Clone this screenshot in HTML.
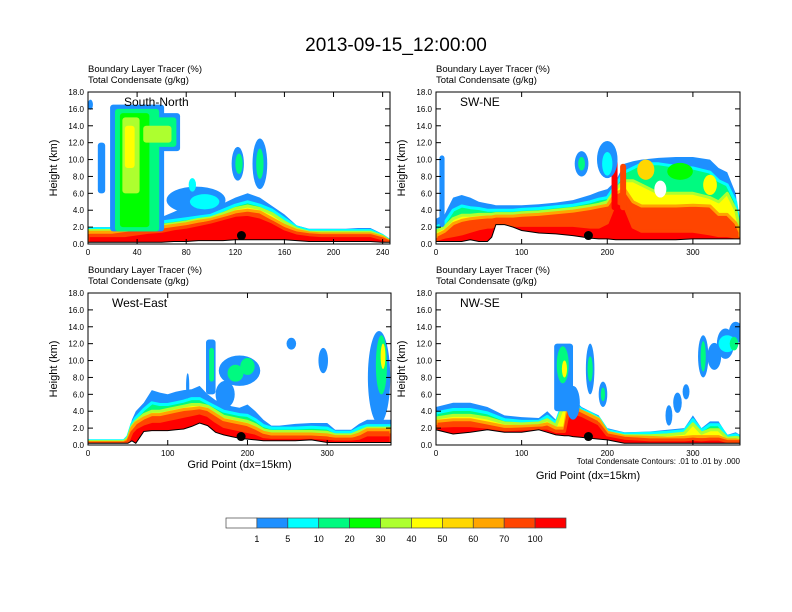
<!DOCTYPE html>
<html><head><meta charset="utf-8"><style>
html,body{margin:0;padding:0;background:#fff;}
svg{display:block;font-family:"Liberation Sans",sans-serif;}
</style></head><body>
<svg id="fig" width="792" height="612" viewBox="0 0 792 612">
<text x="396" y="51" font-size="19" text-anchor="middle">2013-09-15_12:00:00</text>
<g id="panels"></g>
<g id="colorbar"></g>
<text x="740" y="464" font-size="8" text-anchor="end">Total Condensate Contours: .01 to .01 by .000</text>
</svg>
<script>
// colour scale
const levelLabels = ["1","5","10","20","30","40","50","60","70","100"];
const levelColors = ["#ffffff","#1e90ff","#00ffff","#00fa80","#00ff00","#adff2f","#ffff00","#ffd700","#ffa500","#ff4500","#ff0000"];

// Panel 1: South-North
const p1x = [0,10,20,30,40,50,60,70,80,90,100,110,120,130,140,150,160,170,180,190,200,210,220,230,240,246];
const p1t1 = [2.0,2.0,2.0,2.2,2.4,2.8,3.2,3.8,4.5,4.2,4.2,4.8,5.5,6.0,5.5,4.5,3.5,2.2,1.8,1.8,1.8,1.8,1.9,1.9,1.2,0.5];
const p1t10 = [1.8,1.8,1.8,2.0,2.2,2.5,2.6,2.8,3.0,3.2,3.4,4.0,4.6,5.0,4.6,4.0,3.0,2.0,1.6,1.6,1.6,1.6,1.6,1.6,1.0,0.4];
const p1t40 = [1.6,1.6,1.6,1.8,2.0,2.2,2.2,2.4,2.6,2.9,3.1,3.6,4.2,4.5,4.2,3.6,2.6,1.8,1.4,1.4,1.4,1.4,1.4,1.4,0.9,0.3];
const p1t70 = [1.4,1.4,1.4,1.6,1.8,1.9,2.0,2.2,2.4,2.7,2.9,3.3,3.8,4.0,3.8,3.0,2.2,1.6,1.3,1.2,1.2,1.2,1.2,1.2,0.8,0.3];
const p1t100 = [1.0,1.0,1.0,1.0,1.2,1.4,1.5,1.8,2.0,2.3,2.6,3.0,3.4,3.5,3.2,2.6,1.8,1.3,1.1,1.0,1.0,1.0,1.0,1.0,0.6,0.2];
const p1ter = [0.2,0.2,0.2,0.2,0.2,0.2,0.2,0.3,0.3,0.4,0.4,0.4,0.5,0.5,0.5,0.5,0.5,0.4,0.3,0.3,0.3,0.3,0.3,0.3,0.2,0.2];
const p1boxes = [[8,6,14,12,1],[18,1.5,62,16.5,1],[40,11,75,15.5,1],[22,1.5,58,16,3],[42,11.5,72,15,3],[26,2,50,15.5,4],[45,12,68,14,5],[28,6,42,15,5],[30,9,38,14,6]];
const p1blobs = [[88,5.2,24,1.6,1],[95,5,12,0.9,2],[85,7,3,0.8,2],[140,9.5,6,3,1],[140,9.5,3,1.8,3],[122,9.5,5,2,1],[123,9.5,3,1.2,3],[2,16.5,2,0.6,1]];

// Panel 2: SW-NE
const p2x = [0,10,20,30,40,50,60,65,70,80,90,100,120,140,160,180,190,200,210,220,230,240,260,280,300,320,330,340,350,355];
const p2t1 = [3.0,3.5,5.5,5.8,5.5,5.0,4.8,4.7,4.6,4.6,4.6,4.6,4.7,4.9,5.2,5.8,6.2,6.5,7.5,9.5,9.8,10,10.2,10.3,10.3,10,9,8.5,6,2];
const p2t10 = [2.0,2.5,4.0,4.5,4.3,4.2,4.0,4.0,4.0,4.0,4.0,4.1,4.2,4.4,4.6,5.0,5.3,5.5,7,8.5,9,9.5,9.5,9.2,9,8.5,7.5,7,5,1.8];
const p2t40 = [1.5,2.0,3.0,3.4,3.4,3.5,3.5,3.5,3.6,3.6,3.6,3.7,3.8,4.0,4.2,4.5,4.7,5.0,6.5,7.5,7.5,7,6,6,6,5.5,5,6,4,1.5];
const p2t70 = [1.0,1.5,2.4,2.8,3.0,3.1,3.2,3.2,3.3,3.3,3.3,3.4,3.5,3.7,3.9,4.2,4.4,4.6,6.0,6.5,5,4.5,4.5,4.5,4.6,4.5,3.5,3.5,2.5,1.4];
const p2t100 = [0.5,0.8,1.0,1.2,1.5,1.8,2.0,2.0,2.2,2.2,2.2,2.2,2.2,2.2,2.2,2.0,2.0,2.5,5,4.5,2,1.5,1.5,1.5,1.5,1.2,1.0,1.0,0.8,0.6];
const p2ter = [0.3,0.3,0.3,0.3,0.5,0.3,0.3,0.8,2.3,2.3,2.0,1.6,1.3,1.2,1.0,0.7,0.6,0.6,0.5,0.5,0.5,0.5,0.5,0.5,0.6,0.6,0.6,0.6,0.6,0.6];
const p2boxes = [[4,2,10,10.5,1],[205,4,212,10,10],[215,4,222,9.5,9]];
const p2blobs = [[170,9.5,8,1.5,1],[170,9.5,4,0.8,3],[200,10,12,2.2,1],[200,9.5,6,1.4,2],[262,6.5,7,1,0],[245,8.8,10,1.2,7],[285,8.6,15,1,4],[320,7,8,1.2,6]];

// Panel 3: West-East
const p3x = [0,45,50,55,60,70,80,90,100,110,120,130,140,150,160,170,180,190,200,210,220,230,240,260,280,300,310,320,330,340,350,360,370,380];
const p3t1 = [0.6,0.6,1.2,3.0,4.0,5.0,6.5,6.2,6.0,6.3,6.5,6.6,7.0,6.0,5.3,5.0,4.6,4.4,4.8,4.0,3.0,2.3,2.3,2.5,2.6,2.6,1.8,1.8,1.8,2.5,3,3,3,3];
const p3t10 = [0.5,0.5,1.0,2.5,3.2,4.2,5.0,4.8,4.8,5.0,5.2,5.5,5.5,5.0,4.5,4.0,3.8,3.6,3.5,3.0,2.3,2.0,2.0,2.0,2.1,2.0,1.5,1.5,1.5,2.0,2.3,2.3,2.3,2.3];
const p3t40 = [0.4,0.4,0.8,2.2,2.8,3.6,4.0,4.0,4.2,4.4,4.6,4.8,4.8,4.6,4.0,3.4,3.2,3.0,2.8,2.4,1.8,1.6,1.6,1.6,1.6,1.5,1.2,1.2,1.2,1.6,2.0,2.0,2.0,2.0];
const p3t70 = [0.3,0.3,0.6,2.0,2.6,3.2,3.6,3.6,3.8,4.0,4.2,4.3,4.4,4.2,3.6,3.0,2.8,2.6,2.4,2.0,1.5,1.3,1.3,1.3,1.3,1.2,1.0,1.0,1.0,1.3,1.8,1.8,1.8,1.8];
const p3t100 = [0.2,0.2,0.4,1.5,2.0,2.5,2.8,2.8,3.0,3.2,3.4,3.6,3.8,3.5,2.8,2.2,2.0,1.8,1.6,1.4,1.0,0.9,0.9,0.9,0.9,0.8,0.7,0.7,0.7,0.8,1.2,1.2,1.2,1.2];
const p3ter = [0.2,0.2,0.2,0.5,0.2,1.6,1.7,1.7,1.7,1.8,1.9,2.2,2.6,2.3,1.5,1.2,1.0,0.8,0.7,0.6,0.5,0.5,0.5,0.5,0.6,0.3,0.3,0.3,0.3,0.3,0.3,0.3,0.3,0.3];
const p3boxes = [[148,6,160,12.5,1],[152,7.5,158,11.5,3]];
const p3blobs = [[190,8.8,26,1.8,1],[185,8.5,10,1,3],[200,9.3,9,1,3],[172,6,12,1.6,1],[125,7,2,1.5,1],[255,12,6,0.7,1],[295,10,6,1.5,1],[365,8,14,5.5,1],[368,9.5,7,3.5,3],[370,10.5,3,1.5,6]];

// Panel 4: NW-SE
const p4x = [0,20,40,60,80,100,120,130,140,150,155,160,170,180,190,200,220,250,270,290,300,310,320,330,340,350,355];
const p4t1 = [4.5,5.0,5.0,4.5,3.5,3.3,3.2,4.0,3.0,6.0,6.0,5.5,4.5,4.0,3.5,2.0,1.5,1.6,1.8,2.0,3.5,2.0,2.8,2.8,1.2,1.5,1.2];
const p4t10 = [3.8,4.2,4.2,3.8,3.0,2.8,2.8,3.4,2.6,5.5,5.5,5.0,4.2,3.8,3.2,1.7,1.3,1.4,1.5,1.7,3.0,1.7,2.4,2.4,1.0,1.2,1.0];
const p4t40 = [3.2,3.5,3.5,3.2,2.6,2.5,2.6,3.0,2.3,5.0,5.2,4.7,4.0,3.6,3.1,1.5,1.1,1.1,1.2,1.4,2.5,1.4,1.8,1.8,0.8,0.9,0.8];
const p4t70 = [2.8,3.0,3.0,2.6,2.2,2.2,2.3,2.5,2.0,2.0,5.0,4.5,4.0,3.5,3.0,1.5,1.0,0.9,0.8,0.9,1.0,1.0,1.0,1.0,0.6,0.6,0.5];
const p4t100 = [2.2,2.3,2.3,2.1,1.8,1.9,2.0,2.0,1.6,1.6,4.0,3.8,3.5,3.0,2.5,1.2,0.8,0.6,0.6,0.6,0.7,0.6,0.7,0.7,0.4,0.4,0.4];
const p4ter = [1.8,1.3,1.5,1.8,1.5,1.5,1.8,1.5,1.2,1.1,1.1,1.0,0.9,0.8,0.7,0.6,0.2,0.2,0.2,0.2,0.2,0.2,0.2,0.2,0.2,0.2,0.2];
const p4boxes = [[138,4,160,12,1]];
const p4blobs = [[148,9.5,7,2.2,3],[150,9,3,1,6],[180,9,5,3,1],[180,9,3,1.5,3],[195,6,5,1.5,1],[195,6,2.5,0.8,3],[160,5,8,2,1],[272,3.5,4,1.2,1],[282,5,5,1.2,1],[292,6.3,4,0.9,1],[312,10.5,6,2.5,1],[312,10.5,3,1.8,3],[325,10.5,8,1.6,1],[338,12,10,1.8,1],[350,13.3,8,1.3,1],[340,12,10,1,2],[348,12,5,0.8,3]];

const yTicks = [0,2,4,6,8,10,12,14,16,18];
const panels = [
 {id:"south-north", title:"South-North", L:88, T:92, W:302, H:152, xmax:246, xt:[0,40,80,120,160,200,240], x:p1x, lv:[p1t1,p1t10,p1t40,p1t70,p1t100], ter:p1ter, boxes:p1boxes, blobs:p1blobs, dot:[125,1.0], xtitle:false},
 {id:"sw-ne", title:"SW-NE", L:436, T:92, W:304, H:152, xmax:355, xt:[0,100,200,300], x:p2x, lv:[p2t1,p2t10,p2t40,p2t70,p2t100], ter:p2ter, boxes:p2boxes, blobs:p2blobs, dot:[178,1.0], xtitle:false},
 {id:"west-east", title:"West-East", L:88, T:293, W:303, H:152, xmax:380, xt:[0,100,200,300], x:p3x, lv:[p3t1,p3t10,p3t40,p3t70,p3t100], ter:p3ter, boxes:p3boxes, blobs:p3blobs, dot:[192,1.0], xtitle:468},
 {id:"nw-se", title:"NW-SE", L:436, T:293, W:304, H:152, xmax:355, xt:[0,100,200,300], x:p4x, lv:[p4t1,p4t10,p4t40,p4t70,p4t100], ter:p4ter, boxes:p4boxes, blobs:p4blobs, dot:[178,1.0], xtitle:479}
];
const layerFill = [1,3,6,9,10];
const layerEdge = [1,2,5,8,9];
const NS = "http://www.w3.org/2000/svg";
function mk(tag, attrs, parent){const e=document.createElementNS(NS,tag);for(const k in attrs)e.setAttribute(k,attrs[k]);parent.appendChild(e);return e;}
const root = document.getElementById("panels");
panels.forEach((p,pi)=>{
  const sx = v => p.L + v/p.xmax*p.W;
  const sy = v => p.T + p.H - v/18*p.H;
  const g = mk("g",{},root);
  
  
  const cp = mk("clipPath",{id:"cp"+pi},g);
  mk("rect",{x:p.L,y:p.T,width:p.W,height:p.H},cp);
  const plot = mk("g",{"clip-path":"url(#cp"+pi+")"},g);
  p.lv.forEach((arr,li)=>{
    let d = "M"+sx(p.x[0])+","+sy(0);
    arr.forEach((v,i)=>{ d += " L"+sx(p.x[i]).toFixed(1)+","+sy(v).toFixed(1); });
    d += " L"+sx(p.x[p.x.length-1])+","+sy(0)+" Z";
    const path = mk("path",{d:d,fill:levelColors[layerFill[li]],stroke:levelColors[layerEdge[li]],"stroke-width":li===0?0:3,"stroke-linejoin":"round"},plot);
    
    
  });
  p.boxes.forEach(b=>{
    const r = mk("rect",{x:sx(b[0]),y:sy(b[3]),width:sx(b[2])-sx(b[0]),height:sy(b[1])-sy(b[3]),rx:3,fill:levelColors[b[4]]},plot);
    
    
  });
  p.blobs.forEach(b=>{
    const e = mk("ellipse",{cx:sx(b[0]),cy:sy(b[1]),rx:b[2]/p.xmax*p.W,ry:b[3]/18*p.H,fill:levelColors[b[4]]},plot);
    
    
  });
  let td = "M"+sx(p.x[0])+","+sy(0);
  p.ter.forEach((v,i)=>{ td += " L"+sx(p.x[i]).toFixed(1)+","+sy(v).toFixed(1); });
  td += " L"+sx(p.x[p.x.length-1])+","+sy(0)+" Z";
  const ter = mk("path",{d:td,fill:"#fff",stroke:"#000","stroke-width":1},plot);
  
  
  const dot = mk("circle",{cx:sx(p.dot[0]),cy:sy(p.dot[1]),r:4.5,fill:"#000"},plot);
  
  
  const fr = mk("rect",{x:p.L,y:p.T,width:p.W,height:p.H,fill:"none",stroke:"#000","stroke-width":1},g);
  
  
  yTicks.forEach(t=>{
    const y=sy(t);
    mk("line",{x1:p.L,x2:p.L+5,y1:y,y2:y,stroke:"#000"},g);
    mk("line",{x1:p.L+p.W,x2:p.L+p.W-5,y1:y,y2:y,stroke:"#000"},g);
    const tl = mk("text",{x:p.L-4,y:y+3,"font-size":8,"text-anchor":"end"},g);
    tl.textContent = t.toFixed(1);
    
    
  });
  p.xt.forEach(t=>{
    const x=sx(t);
    mk("line",{x1:x,x2:x,y1:p.T+p.H,y2:p.T+p.H-5,stroke:"#000"},g);
    mk("line",{x1:x,x2:x,y1:p.T,y2:p.T+5,stroke:"#000"},g);
    const tl = mk("text",{x:x,y:p.T+p.H+11,"font-size":8,"text-anchor":"middle"},g);
    tl.textContent = t;
    
    
  });
  const yt = mk("text",{x:0,y:0,"font-size":11,"text-anchor":"middle",transform:"translate("+(p.L-31)+","+(p.T+p.H/2)+") rotate(-90)"},g);
  yt.textContent = "Height (km)";
  
  
  const h1 = mk("text",{x:p.L,y:p.T-20,"font-size":9.5},g);
  h1.textContent = "Boundary Layer Tracer   (%)";
  
  
  const h2 = mk("text",{x:p.L,y:p.T-9,"font-size":9.5},g);
  h2.textContent = "Total Condensate   (g/kg)";
  
  
  const pt = mk("text",{x:p.L+(pi===0?36:24),y:p.T+14,"font-size":12},g);
  pt.textContent = p.title;
  
  
  if(p.xtitle){
    const xt = mk("text",{x:p.L+p.W/2,y:p.xtitle,"font-size":11,"text-anchor":"middle"},g);
    xt.textContent = "Grid Point (dx=15km)";
    
    
  }
});
// colorbar
const cb = document.getElementById("colorbar");
const cbL=226, cbW=340, cbT=518, cbH=10, bw=cbW/levelColors.length;
levelColors.forEach((c,i)=>{
  const r = mk("rect",{x:cbL+i*bw,y:cbT,width:bw,height:cbH,fill:c,stroke:"#444","stroke-width":0.7},cb);
  
  
});
levelLabels.forEach((l,i)=>{
  const t = mk("text",{x:cbL+(i+1)*bw,y:cbT+cbH+14,"font-size":9,"text-anchor":"middle"},cb);
  t.textContent = l;
  
  
});
</script>
</body></html>
